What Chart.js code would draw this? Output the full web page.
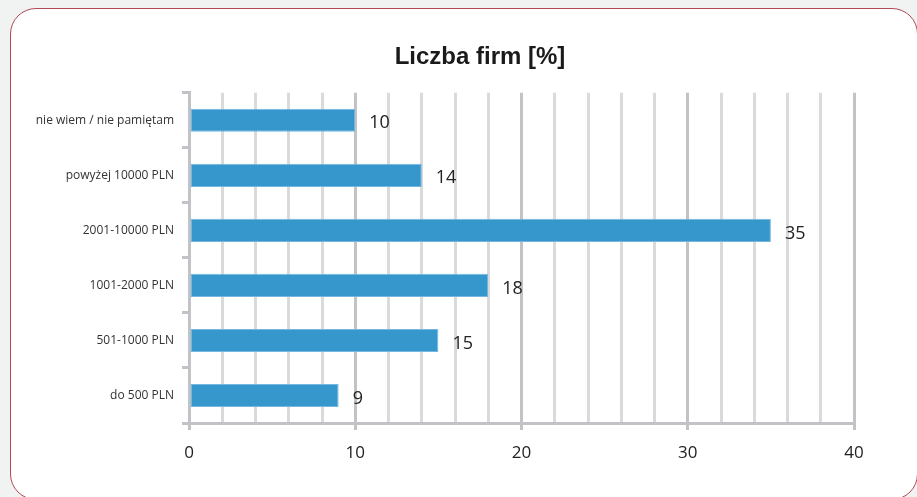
<!DOCTYPE html>
<html>
<head>
<meta charset="utf-8">
<script src="https://cdn.jsdelivr.net/npm/chart.js@4"></script>
<style>
  html, body { margin: 0; padding: 0; background: #f1f2f2; }
  #wrap { position: relative; width: 917px; height: 497px; overflow: hidden; }
  #ramka {
    position: absolute; left: 10px; top: 8px; width: 908px; height: 492px;
    box-sizing: border-box; border: 1.5px solid #b04a55; border-radius: 26px; background: #fff;
  }
  #wykres { position: absolute; left: 0; top: 0; }
</style>
</head>
<body>
<div id="wrap">
  <div id="ramka"></div>
  <canvas id="wykres" width="960" height="497"></canvas>
</div>
<script>
const kategorie = ['nie wiem / nie pamiętam', 'powyżej 10000 PLN', '2001-10000 PLN', '1001-2000 PLN', '501-1000 PLN', 'do 500 PLN'];
const liczbaFirm = [10, 14, 35, 18, 15, 9];
const tytul = 'Liczba firm [%]';
const osXMin = 0;
const osXMax = 40;
const krokSiatki = 2;
const krokEtykiet = 10;

// etykiety wartosci przy koncach slupkow
const etykietyWartosci = {
    id: 'etykietyWartosci',
    afterDatasetsDraw(chart) {
        const ctx = chart.ctx;
        const meta = chart.getDatasetMeta(0);
        ctx.save();
        ctx.font = '18px "Open Sans"';
        ctx.fillStyle = '#222';
        ctx.textAlign = 'left';
        ctx.textBaseline = 'middle';
        meta.data.forEach((bar, i) => {
            ctx.fillText(liczbaFirm[i], bar.x + 14, bar.y + 3);
        });
        ctx.restore();
    }
};

const ctx = document.getElementById('wykres').getContext('2d');
new Chart(ctx, {
    type: 'bar',
    data: {
        labels: kategorie,
        datasets: [{
            data: liczbaFirm,
            backgroundColor: '#3597cc',
            borderColor: '#74b6de',
            borderWidth: 1,
            borderSkipped: false,
            barPercentage: 0.84,
            categoryPercentage: 0.5
        }]
    },
    options: {
        indexAxis: 'y',
        responsive: false,
        animation: false,
        layout: { padding: { top: 43, right: 0, bottom: 0, left: 0 } },
        plugins: {
            legend: { display: false },
            tooltip: { enabled: false },
            title: {
                display: true,
                text: tytul,
                color: '#1a1a1a',
                font: { family: '"Liberation Sans", Arial', size: 24, weight: 'bold' },
                padding: { top: 0, bottom: 21 }
            }
        },
        scales: {
            x: {
                min: osXMin,
                max: osXMax,
                ticks: {
                    stepSize: krokSiatki,
                    autoSkip: false,
                    maxRotation: 0,
                    padding: 13,
                    color: '#222',
                    font: { family: '"Open Sans"', size: 17 },
                    callback: v => (v % krokEtykiet === 0 ? v : '')
                },
                grid: {
                    lineWidth: 3,
                    tickLength: 7,
                    color: c => (c.tick && c.tick.value % krokEtykiet === 0 ? '#c3c3c7' : '#dadada'),
                    tickColor: c => (c.tick && c.tick.value % krokEtykiet === 0 ? '#c3c3c7' : 'rgba(0,0,0,0)')
                },
                border: { display: true, color: '#c3c3c7', width: 3 },
                afterFit: s => { s.height = 74; }
            },
            y: {
                offset: true,
                ticks: {
                    padding: 8,
                    color: '#333',
                    font: { family: '"Open Sans"', size: 12 }
                },
                grid: {
                    offset: true,
                    drawOnChartArea: false,
                    tickLength: 7,
                    lineWidth: 3,
                    tickColor: '#c3c3c7'
                },
                border: { display: true, color: '#c3c3c7', width: 3 },
                afterFit: s => { s.width = 189; }
            },
            // pusta os po prawej, tylko po to zeby tytul byl wysrodkowany jak w oryginale
            prawa: {
                type: 'linear',
                position: 'right',
                display: true,
                grid: { display: false, drawTicks: false },
                ticks: { display: false },
                border: { display: false },
                afterFit: s => { s.width = 106; }
            }
        }
    },
    plugins: [etykietyWartosci]
});
</script>
</body>
</html>
